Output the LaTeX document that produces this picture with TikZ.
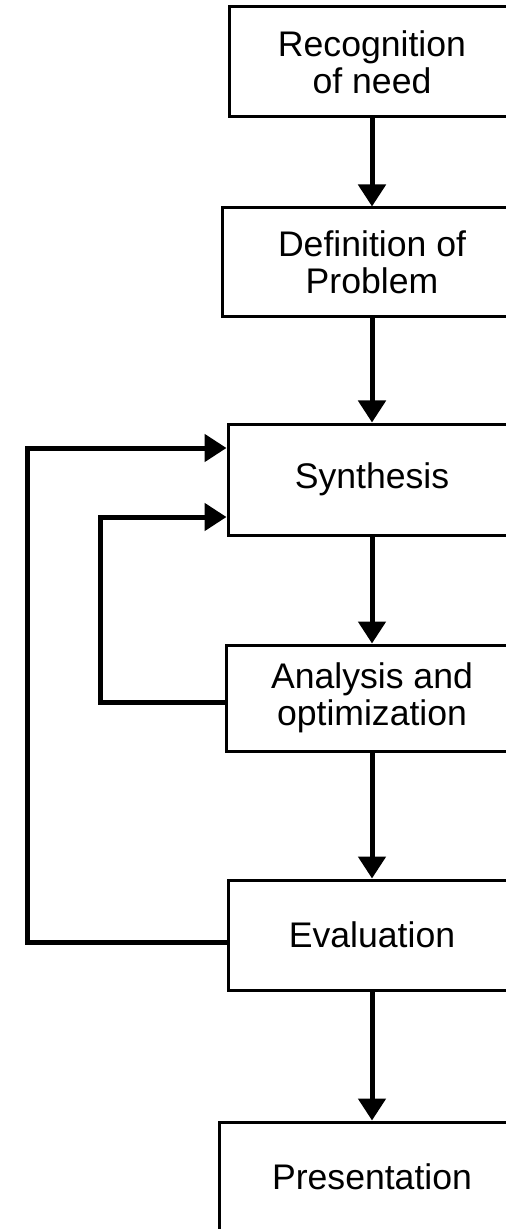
\documentclass[tikz,border=0pt]{standalone}
\usepackage{fontspec}
\setmainfont{Liberation Sans}
\usetikzlibrary{arrows.meta}

\begin{document}
\begin{tikzpicture}[->, >={Triangle[length=11pt,width=13.5pt]}, line width=2.5pt, x=0.5pt, y=-0.5pt,
  every node/.style={draw, line width=1.5pt, align=center, font=\fontsize{17.8}{18.5}\selectfont}]
\useasboundingbox (0,0) rectangle (505,1229);

\node[minimum width=143pt, minimum height=55pt] (1) at (372,62) {Recognition\\of need};
\node[minimum width=150pt, minimum height=54.5pt] (2) at (372,262.5) {Definition of\\Problem};
\node[minimum width=144pt, minimum height=55.5pt] (3) at (372,479.5) {Synthesis};
\node[minimum width=146pt, minimum height=53pt] (4) at (372,698) {Analysis and\\optimization};
\node[minimum width=144pt, minimum height=55pt] (5) at (372,935) {Evaluation};
\node[minimum width=153pt, minimum height=55pt] (6) at (372,1177) {Presentation};

\coordinate (outer) at (27,0);
\coordinate (inner) at (100,0);

\path (1) edge (2)
      (2) edge (3)
      (3) edge (4)
      (4) edge (5)
      (5) edge (6);

% loops back to synthesis
\draw ([yshift=-3.5pt]5.west) -| ([yshift=15.75pt]3.west -| outer) -- ([yshift=15.75pt]3.west);
\draw ([yshift=-2pt]4.west) -| ([yshift=-18.75pt]3.west -| inner) -- ([yshift=-18.75pt]3.west);
\end{tikzpicture}
\end{document}
